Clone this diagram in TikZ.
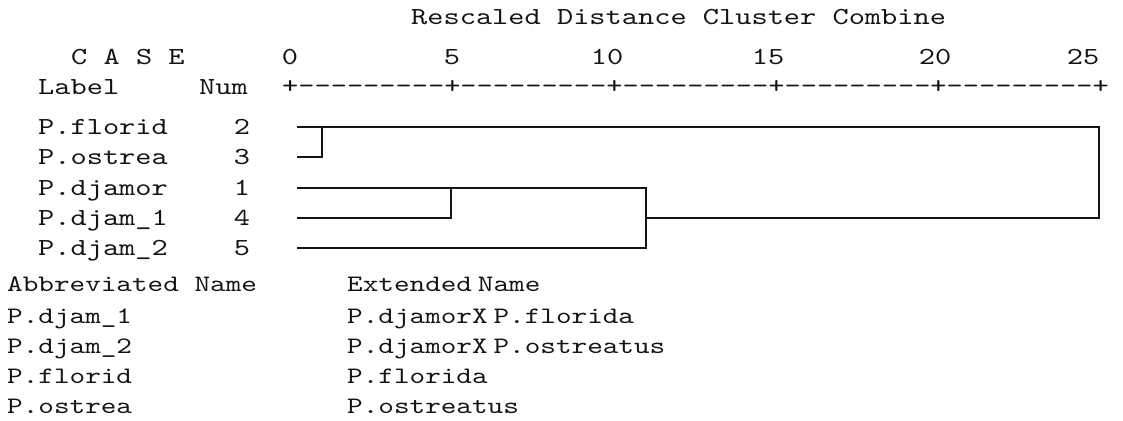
\documentclass[tikz,border=0pt]{standalone}
\usepackage{fontspec}
\usepackage{xcolor}
\newfontfamily\spssmono[FakeStretch=1.26]{lmmono10-regular.otf}
\definecolor{SpssInk}{RGB}{20,20,20}
\tikzset{
  spsstext/.style={inner sep=0pt,anchor=base west,text=SpssInk,
    font=\spssmono\fontsize{24.5}{30}\selectfont},
  spsssmall/.style={spsstext,font=\spssmono\fontsize{23.6}{29}\selectfont},
  spsstick/.style={spsstext,anchor=base},
  treeline/.style={draw=SpssInk,line width=1.7pt,line cap=rect}
}

\begin{document}
\begin{tikzpicture}[x=1pt,y=-1pt]
  \useasboundingbox (0,0) rectangle (1123,420);

  % header and scale
  \node[spsstext] (title) at (411,25) {Rescaled Distance Cluster Combine};
  \node[spsstext] (case) at (71,64) {C A S E};
  \node[spsstick] (t0) at (290,64) {0};
  \node[spsstick] (t5) at (452,64) {5};
  \node[spsstick] (t10) at (607,64) {10};
  \node[spsstick] (t15) at (768,64) {15};
  \node[spsstick] (t20) at (935,64) {20};
  \node[spsstick] (t25) at (1083,64) {25};
  \node[spsstext] (label) at (38,94) {Label};
  \node[spsstext] (num) at (199,94) {Num};
  \node[spsstext] (axis) at (282,93)
    {+---------+---------+---------+---------+---------+};

  % cases
  \node[spsstext] (n2) at (38,134) {P.florid};
  \node[spsstext] (n3) at (38,164) {P.ostrea};
  \node[spsstext] (n1) at (38,195) {P.djamor};
  \node[spsstext] (n4) at (38,225) {P.djam\_1};
  \node[spsstext] (n5) at (38,255) {P.djam\_2};
  \node[spsstick] (k2) at (242,134) {2};
  \node[spsstick] (k3) at (242,164) {3};
  \node[spsstick] (k1) at (242,195) {1};
  \node[spsstick] (k4) at (242,225) {4};
  \node[spsstick] (k5) at (242,255) {5};

  % dendrogram
  \coordinate (l2) at (298,127);
  \coordinate (l3) at (298,157);
  \coordinate (l1) at (298,188);
  \coordinate (l4) at (298,218);
  \coordinate (l5) at (298,248);
  \coordinate (j23) at (322,127);
  \coordinate (j14) at (451,188);
  \coordinate (j145) at (646,248);
  \coordinate (o145) at (646,218);
  \coordinate (jall) at (1099,127);
  \draw[treeline] (l3) -| (j23);
  \draw[treeline] (l4) -| (j14);
  \draw[treeline] (l1) -| (j145);
  \draw[treeline] (l5) -- (j145);
  \draw[treeline] (l2) -- (jall) |- (o145);

  % name table
  \node[spsssmall] (abbr) at (7,291) {Abbreviated Name};
  \node[spsssmall] (ext) at (347,291) {Extended\hspace{0.25em}Name};
  \node[spsssmall] (a1) at (7,323) {P.djam\_1};
  \node[spsssmall] (a2) at (7,353) {P.djam\_2};
  \node[spsssmall] (a3) at (7,383) {P.florid};
  \node[spsssmall] (a4) at (7,413) {P.ostrea};
  \node[spsssmall] (e1) at (347,323) {P.djamorX\hspace{0.25em}P.florida};
  \node[spsssmall] (e2) at (347,353) {P.djamorX\hspace{0.25em}P.ostreatus};
  \node[spsssmall] (e3) at (347,383) {P.florida};
  \node[spsssmall] (e4) at (347,413) {P.ostreatus};
\end{tikzpicture}
\end{document}
